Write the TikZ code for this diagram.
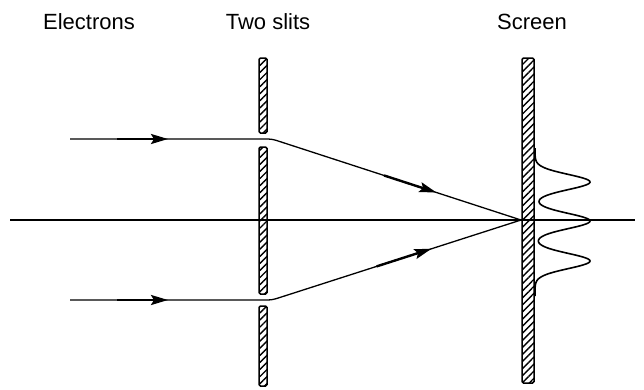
\documentclass[tikz,border=0pt]{standalone}
\usepackage{fontspec}
\setmainfont{Liberation Sans}
\usetikzlibrary{patterns.meta,arrows.meta,calc}
\tikzset{
  lbl/.style={inner sep=0pt, font=\fontsize{22}{26}\selectfont},
  wall/.style={draw=black, line width=1.5pt, rounded corners=1.5pt,
    pattern={Lines[angle=45,distance=5pt,line width=1.4pt]}},
  ray/.style={line width=1.3pt, rounded corners=4pt},
  axis/.style={line width=1.1pt},
  arr/.style={line width=2.4pt, -{Stealth[length=17pt,width=10pt,inset=3pt]}},
  peaks/.style={line width=1.6pt}
}
\begin{document}
\begin{tikzpicture}[x=1pt,y=-1pt]
\useasboundingbox (0,0) rectangle (644,389);
% labels
\node[lbl] (le) at (89,22) {Electrons};
\node[lbl] (ls) at (268,22) {Two slits};
\node[lbl] (lsc) at (532,22) {Screen};
% axis
\coordinate (axL) at (10,220);
\coordinate (axR) at (635,220);
\draw[axis] (axL) -- (axR);
% rays
\coordinate (s1) at (70,139);
\coordinate (b1) at (272,139);
\coordinate (s2) at (70,300);
\coordinate (b2) at (272,300);
\coordinate (f) at (521,220);
\draw[ray] (s1) -- (b1) -- (f);
\draw[ray] (s2) -- (b2) -- (f);
% arrows on incoming rays
\draw[arr] (117,139) -- (168,139);
\draw[arr] (117,300) -- (168,300);
% arrows on diagonal rays
\draw[arr] ($(b1)!0.45!(f)$) -- ($(b1)!0.66!(f)$);
\draw[arr] ($(b2)!0.42!(f)$) -- ($(b2)!0.64!(f)$);
% slits wall
\path[wall] (259,58) rectangle (267,133);
\path[wall] (259,147) rectangle (267,294);
\path[wall] (259,306) rectangle (267,386);
% screen
\path[wall] (522,58) rectangle (534,383);
% intensity pattern
\draw[peaks] plot[domain=148:296, samples=200, variable=\t]
  ({535+55*(exp(-((\t-182)^2)/115)+exp(-((\t-221)^2)/115)+exp(-((\t-261)^2)/115))}, {\t});
\end{tikzpicture}
\end{document}
